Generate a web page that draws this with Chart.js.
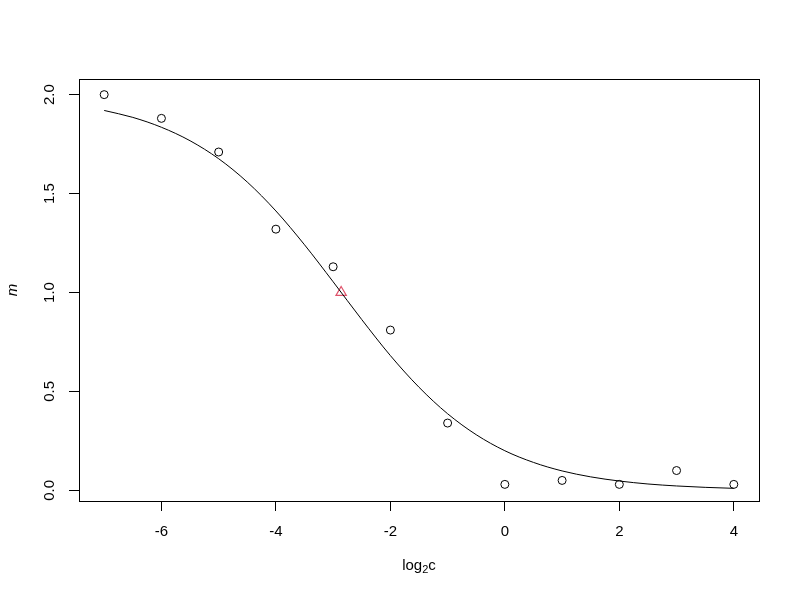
<!DOCTYPE html>
<html>
<head>
<meta charset="utf-8">
<script src="https://cdn.jsdelivr.net/npm/chart.js@4.4.1/dist/chart.umd.min.js"></script>
<style>
  html, body { margin: 0; padding: 0; background: #fff; }
</style>
</head>
<body>
<canvas id="chart" width="800" height="600"></canvas>
<script>
// observed points (log2 c, m)
var obsX = [-7, -6, -5, -4, -3, -2, -1, 0, 1, 2, 3, 4];
var obsM = [2.00, 1.88, 1.71, 1.32, 1.13, 0.81, 0.34, 0.03, 0.05, 0.03, 0.10, 0.03];

// fitted curve
var fitX = [-7, -6.5, -6, -5.5, -5, -4.5, -4, -3.5, -3, -2.5, -2, -1.5, -1, -0.5, 0, 0.5, 1, 1.5, 2, 2.5, 3, 3.5, 4];
var fitM = [1.92, 1.885, 1.835, 1.767, 1.676, 1.558, 1.412, 1.241, 1.054, 0.863, 0.681, 0.521, 0.387, 0.281, 0.200, 0.141, 0.098, 0.068, 0.047, 0.032, 0.022, 0.015, 0.010];

// midpoint marker
var midX = [-2.86];
var midM = [1.0];

var xTicks = [-6, -4, -2, 0, 2, 4];
var yTicks = [0.0, 0.5, 1.0, 1.5, 2.0];

var font = '"Liberation Sans", Arial, Helvetica, sans-serif';

function zip(xs, ys) { return xs.map((x, i) => ({ x: x, y: ys[i] })); }

// box, rotated y labels, axis titles (R base-graphics look)
var frame = {
    id: 'frame',
    afterDraw: function (chart) {
        var c = chart.ctx, a = chart.chartArea;
        var ys = chart.scales.y;
        c.save();
        c.strokeStyle = '#000';
        c.lineWidth = 1;
        c.strokeRect(Math.round(a.left) + 0.5, Math.round(a.top) + 0.5,
            Math.round(a.right - a.left), Math.round(a.bottom - a.top));

        c.fillStyle = '#000';
        c.font = '15px ' + font;
        c.textAlign = 'center';
        c.textBaseline = 'middle';
        yTicks.forEach(function (v) {
            c.save();
            c.translate(50, ys.getPixelForValue(v));
            c.rotate(-Math.PI / 2);
            c.fillText(v.toFixed(1), 0, 0);
            c.restore();
        });

        // y title
        c.save();
        c.translate(13, (a.top + a.bottom) / 2);
        c.rotate(-Math.PI / 2);
        c.font = 'italic 15px ' + font;
        c.fillText('m', 0, 0);
        c.restore();

        // x title log2c with subscript
        c.font = '15px ' + font;
        var w1 = c.measureText('log').width;
        c.font = '11px ' + font;
        var w2 = c.measureText('2').width;
        c.font = '15px ' + font;
        var w3 = c.measureText('c').width;
        var cx = (a.left + a.right) / 2;
        var x0 = cx - (w1 + w2 + w3) / 2;
        var yb = 566;
        c.textAlign = 'left';
        c.fillText('log', x0, yb);
        c.font = '11px ' + font;
        c.fillText('2', x0 + w1, yb + 4);
        c.font = '15px ' + font;
        c.fillText('c', x0 + w1 + w2, yb);
        c.restore();
    }
};

new Chart(document.getElementById('chart'), {
    type: 'scatter',
    data: {
        datasets: [
            {
                type: 'line',
                data: zip(fitX, fitM),
                borderColor: '#000',
                borderWidth: 1,
                pointRadius: 0,
                cubicInterpolationMode: 'monotone',
                fill: false
            },
            {
                data: zip(obsX, obsM),
                pointStyle: 'circle',
                pointRadius: 4,
                pointBorderWidth: 1,
                borderColor: '#000',
                backgroundColor: 'rgba(0,0,0,0)'
            },
            {
                data: zip(midX, midM),
                pointStyle: 'triangle',
                pointRadius: 6,
                pointBorderWidth: 1.2,
                borderColor: '#DF536B',
                backgroundColor: 'rgba(0,0,0,0)'
            }
        ]
    },
    options: {
        responsive: false,
        animation: false,
        devicePixelRatio: 1,
        layout: { padding: { top: 79, right: 41, left: 0, bottom: 0 } },
        plugins: { legend: { display: false }, tooltip: { enabled: false } },
        scales: {
            x: {
                type: 'linear',
                min: -7.44,
                max: 4.44,
                afterFit: function (s) { s.height = 99; },
                afterBuildTicks: function (s) { s.ticks = xTicks.map(v => ({ value: v })); },
                border: { display: false },
                grid: { drawOnChartArea: false, drawTicks: true, tickLength: 10, color: '#000', lineWidth: 1 },
                ticks: { color: '#000', font: { family: font, size: 15 }, padding: 12, maxRotation: 0 }
            },
            y: {
                type: 'linear',
                min: -0.054,
                max: 2.079,
                afterFit: function (s) { s.width = 79; },
                afterBuildTicks: function (s) { s.ticks = yTicks.map(v => ({ value: v })); },
                border: { display: false },
                grid: { drawOnChartArea: false, drawTicks: true, tickLength: 10, color: '#000', lineWidth: 1 },
                ticks: { display: false }
            }
        }
    },
    plugins: [frame]
});
</script>
</body>
</html>
